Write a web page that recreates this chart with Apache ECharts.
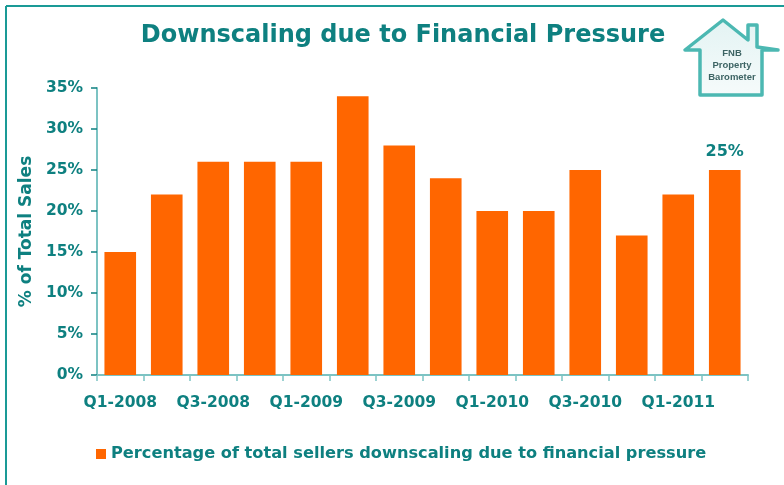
<!DOCTYPE html>
<html><head><meta charset="utf-8">
<script src="https://cdn.jsdelivr.net/npm/echarts@6/dist/echarts.min.js"></script>
<style>html,body{margin:0;padding:0;background:#fff}#c{width:784px;height:485px}</style>
</head><body><div id="c"></div>
<script>
const categories = ['Q1-2008','Q2-2008','Q3-2008','Q4-2008','Q1-2009','Q2-2009','Q3-2009','Q4-2009','Q1-2010','Q2-2010','Q3-2010','Q4-2010','Q1-2011','Q2-2011'];
const values = [15,22,26,26,26,34,28,24,20,20,25,17,22,25];
const seriesName = 'Percentage of total sellers downscaling due to financial pressure';
const yTicks = [0,5,10,15,20,25,30,35];

const teal = '#0e8080';
const chart = echarts.init(document.getElementById('c'));
const FONT = '"DejaVu Sans", "Liberation Sans", Arial, sans-serif';
chart.setOption({
  animation:false,
  textStyle:{fontFamily:FONT},
  title:{text:'Downscaling due to Financial Pressure',left:398,top:19,textAlign:'center',
    textStyle:{color:teal,fontSize:24,fontWeight:'bold',fontFamily:FONT}},
  legend:{data:[seriesName],left:91,top:441,itemWidth:10,itemHeight:10,icon:'rect',itemGap:6,
    textStyle:{color:teal,fontSize:16.2,fontWeight:'bold',fontFamily:FONT}},
  grid:{left:97,right:36,top:88,bottom:110},
  xAxis:{type:'category',data:categories,
    axisLine:{lineStyle:{color:'#7cc3c3',width:2}},
    axisTick:{show:true,length:6,lineStyle:{color:'#7cc3c3',width:1.5},interval:0},
    axisLabel:{interval:1,color:teal,fontSize:15.5,fontWeight:'bold',margin:20,fontFamily:FONT}},
  yAxis:{type:'value',min:yTicks[0],max:yTicks[yTicks.length-1],interval:5,
    name:'% of Total Sales',nameLocation:'middle',nameGap:58,nameRotate:90,
    nameTextStyle:{color:teal,fontSize:17,fontWeight:'bold',fontFamily:FONT},
    axisLine:{show:true,lineStyle:{color:'#7cc3c3',width:2}},
    axisTick:{show:true,length:6,inside:false,lineStyle:{color:teal,width:1.5}},
    splitLine:{show:false},
    axisLabel:{formatter:'{value}%',color:teal,fontSize:15.5,fontWeight:'bold',margin:14,fontFamily:FONT}},
  series:[{name:seriesName,type:'bar',data:values.map((v,i)=>i===values.length-1?{value:v,label:{show:true}}:v),
    barCategoryGap:'32%',itemStyle:{color:'#ff6600'},
    label:{show:false,position:'top',formatter:'{c}%',color:teal,fontSize:16,fontWeight:'bold',distance:10,fontFamily:FONT}}],
  graphic:[
    {type:'line',shape:{x1:6,y1:6,x2:784,y2:6},style:{stroke:'#1a9a96',lineWidth:2}},
    {type:'line',shape:{x1:6,y1:6,x2:6,y2:485},style:{stroke:'#1a9a96',lineWidth:2}},
    {type:'polygon',shape:{points:[[685,50],[723,20],[748,40],[748,25],[757,25],[757,47],[778,50],[762,50],[762,95],[700,95],[700,50]]},
      style:{fill:{type:'linear',x:0,y:0,x2:0,y2:1,colorStops:[{offset:0,color:'#e3f3f3'},{offset:1,color:'#f6fbfb'}]},stroke:'#4cb8b2',lineWidth:3.5,lineJoin:'round'}},
    {type:'text',style:{text:'FNB\nProperty\nBarometer',x:732,y:47,align:'center',verticalAlign:'top',fill:'#3d6464',font:'bold 9.5px "Liberation Sans", Arial, sans-serif',lineHeight:12}}
  ]
});
</script></body></html>
